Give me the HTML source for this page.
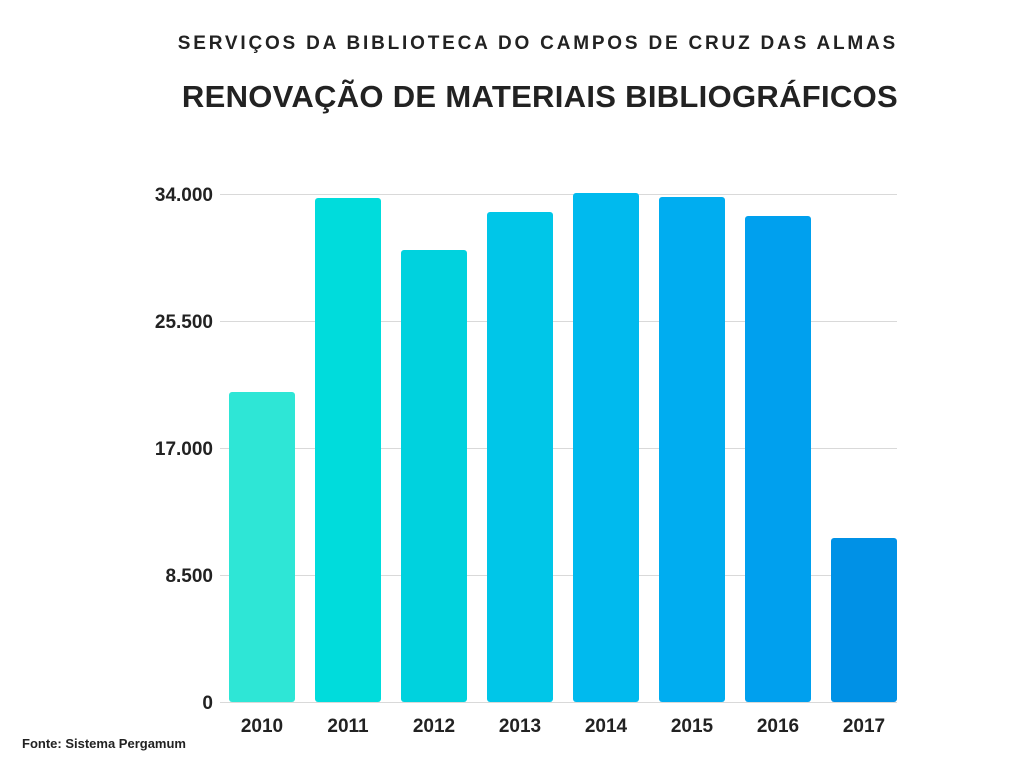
<!DOCTYPE html>
<html><head><meta charset="utf-8"><style>
body{margin:0;width:1024px;height:768px;background:#fff;position:relative;font-family:"Liberation Sans",sans-serif;overflow:hidden}
.t1{position:absolute;right:126px;top:33px;font-size:19px;font-weight:bold;letter-spacing:2.8px;color:#222;white-space:nowrap}
.t2{position:absolute;right:126px;top:79px;font-size:31px;font-weight:bold;color:#222;white-space:nowrap;letter-spacing:0.3px}
.src{position:absolute;left:22px;top:736px;font-size:13px;font-weight:bold;color:#222}
</style></head><body>
<div class="t1">SERVIÇOS DA BIBLIOTECA DO CAMPOS DE CRUZ DAS ALMAS</div>
<div class="t2">RENOVAÇÃO DE MATERIAIS BIBLIOGRÁFICOS</div>
<svg width="1024" height="768" style="position:absolute;left:0;top:0">
<g stroke="#d9d9d9" stroke-width="1">
<line x1="220" x2="897" y1="194.5" y2="194.5"/><line x1="220" x2="897" y1="321.5" y2="321.5"/>
<line x1="220" x2="897" y1="448.5" y2="448.5"/><line x1="220" x2="897" y1="575.5" y2="575.5"/>
<line x1="220" x2="897" y1="702.5" y2="702.5"/></g>
<g font-family="Liberation Sans,sans-serif" font-weight="bold" font-size="19" fill="#222" text-anchor="end">
<text x="213" y="201">34.000</text><text x="213" y="328">25.500</text><text x="213" y="455">17.000</text><text x="213" y="582">8.500</text><text x="213" y="709">0</text></g>
<g>
<rect x="229" y="392" width="66" height="310" rx="3" fill="#2ee6d6"/>
<rect x="315" y="198" width="66" height="504" rx="3" fill="#00dcdc"/>
<rect x="401" y="250" width="66" height="452" rx="3" fill="#00d2de"/>
<rect x="487" y="212" width="66" height="490" rx="3" fill="#00c6e8"/>
<rect x="573" y="193" width="66" height="509" rx="3" fill="#00baee"/>
<rect x="659" y="197" width="66" height="505" rx="3" fill="#00adf0"/>
<rect x="745" y="216" width="66" height="486" rx="3" fill="#00a0ee"/>
<rect x="831" y="538" width="66" height="164" rx="3" fill="#0091e6"/>
</g>
<g font-family="Liberation Sans,sans-serif" font-weight="bold" font-size="19" fill="#222" text-anchor="middle">
<text x="262" y="732">2010</text><text x="348" y="732">2011</text><text x="434" y="732">2012</text><text x="520" y="732">2013</text>
<text x="606" y="732">2014</text><text x="692" y="732">2015</text><text x="778" y="732">2016</text><text x="864" y="732">2017</text></g>
</svg>
<div class="src">Fonte: Sistema Pergamum</div>
</body></html>
